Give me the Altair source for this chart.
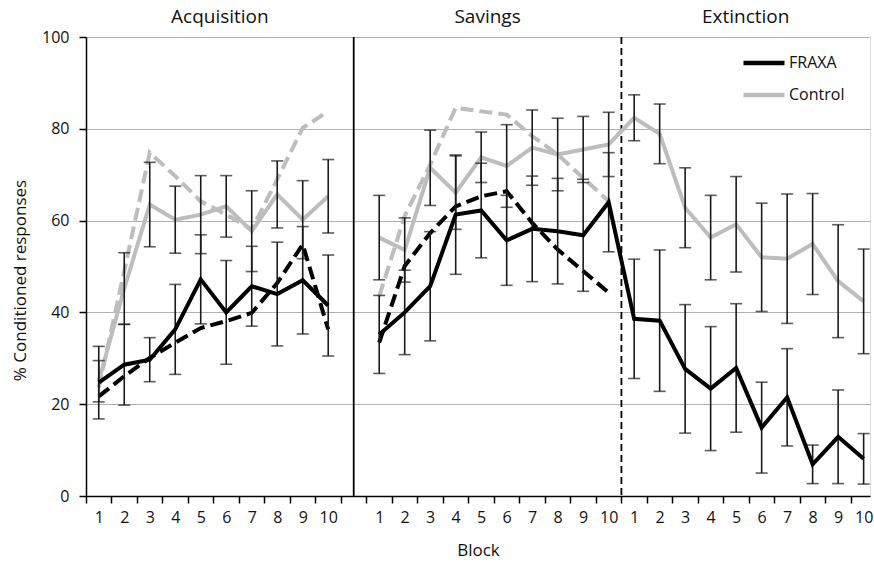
import altair as alt
import pandas as pd

# ---------------- data ----------------
phases = ["Acquisition", "Savings", "Extinction"]
blocks = list(range(1, 11))
groups = ["FRAXA", "Control"]

acq_fraxa = [24.7, 28.6, 29.7, 36.3, 47.2, 40.0, 45.7, 44.0, 47.0, 41.5]
acq_fraxa_err = [7.9, 8.8, 4.8, 9.8, 9.7, 11.3, 8.7, 11.3, 11.7, 11.0]
acq_control = [25.0, 45.2, 63.5, 60.2, 61.3, 63.1, 57.7, 65.7, 60.2, 65.3]
acq_control_err = [4.5, 7.8, 9.2, 7.3, 8.5, 6.7, 8.8, 7.3, 8.5, 8.0]
acq_fraxa_fit = [21.7, 26.1, 30.1, 33.4, 36.6, 38.1, 39.9, 46.4, 54.8, 36.3]
acq_control_fit = [23.6, 49.0, 74.8, 69.7, 64.2, 61.3, 58.1, 69.0, 80.2, 83.8]

sav_fraxa = [35.2, 40.0, 45.7, 61.3, 62.2, 55.7, 58.2, 57.7, 56.8, 64.0]
sav_fraxa_err = [8.5, 9.2, 11.9, 13.0, 10.3, 9.8, 11.5, 11.5, 12.2, 10.8]
sav_control = [56.3, 53.6, 71.5, 66.1, 73.8, 71.9, 75.9, 74.4, 75.5, 76.6]
sav_control_err = [9.2, 7.0, 8.2, 8.0, 5.5, 9.0, 8.2, 7.9, 7.2, 7.0]
sav_fraxa_fit = [33.4, 50.1, 57.3, 63.1, 65.3, 66.4, 59.5, 53.7, 49.0, 44.3]
sav_control_fit = [43.5, 61.0, 72.2, 84.6, 83.8, 83.1, 78.4, 74.4, 69.3, 64.2]

ext_fraxa = [38.6, 38.2, 27.7, 23.4, 27.9, 14.9, 21.5, 6.9, 12.9, 8.1]
ext_fraxa_err = [13.0, 15.4, 14.0, 13.5, 14.0, 9.9, 10.6, 4.2, 10.2, 5.5]
ext_control = [82.4, 78.9, 62.8, 56.3, 59.2, 52.0, 51.7, 54.9, 46.8, 42.4]
ext_control_err = [5.0, 6.5, 8.7, 9.2, 10.4, 11.8, 14.1, 11.0, 12.3, 11.4]

# ---------------- layout of the shared x axis ----------------
# slot index of block 1 for each phase (one empty slot between Acquisition and Savings)
phase_start = {"Acquisition": 0, "Savings": 11, "Extinction": 21}
x_lo, x_hi = -0.5, 30.25
panel_edges = [x_lo, 10.0, 20.5, x_hi]
title_level = 104.3

series = {
    "Acquisition": (acq_fraxa, acq_fraxa_err, acq_control, acq_control_err, acq_fraxa_fit, acq_control_fit),
    "Savings": (sav_fraxa, sav_fraxa_err, sav_control, sav_control_err, sav_fraxa_fit, sav_control_fit),
    "Extinction": (ext_fraxa, ext_fraxa_err, ext_control, ext_control_err, None, None),
}

rows = []
for ph in phases:
    fr, fre, co, coe, frf, cof = series[ph]
    seg = "acq" if ph == "Acquisition" else "sav_ext"
    for i, b in enumerate(blocks):
        pos = phase_start[ph] + i
        for g, m, e, f in (("FRAXA", fr[i], fre[i], frf[i] if frf else None),
                           ("Control", co[i], coe[i], cof[i] if cof else None)):
            rows.append({"phase": ph, "block": b, "pos": pos, "group": g, "seg": seg,
                         "mean": m, "lo": m - e, "hi": m + e, "fit": f})
df = pd.DataFrame(rows)
df_fit = df.dropna(subset=["fit"])

titles = pd.DataFrame({
    "name": phases,
    "pos": [(panel_edges[k] + panel_edges[k + 1]) / 2 for k in range(3)],
    "y": [title_level] * 3,
})

FONT = "Open Sans"
GRAY = "#bdbdbd"

tick_boundaries = [k - 0.5 for k in range(31)]
label_slots = [k for k in range(31) if k != 10]
axis_values = sorted(tick_boundaries + label_slots)

label_expr = ("datum.value % 1 !== 0 ? '' : '' + (datum.value < 10 ? datum.value + 1 : "
              "(datum.value <= 20 ? datum.value - 10 : datum.value - 20))")

x_scale = alt.Scale(domain=[x_lo, x_hi], nice=False, zero=False)
y_scale = alt.Scale(domain=[0, 100], nice=False)

x_enc = alt.X("pos:Q", scale=x_scale, title="Block",
              axis=alt.Axis(values=axis_values, tickCount=200, labelExpr=label_expr, grid=False,
                            tickOpacity={"condition": {"test": "datum.value % 1 !== 0", "value": 1}, "value": 0},
                            tickSize=7, tickColor="black", tickWidth=1.5,
                            domainColor="black", domainWidth=1.5,
                            labelFont=FONT, labelFontSize=16, labelColor="#111",
                            labelPadding=6, labelFlush=False, labelOverlap=False,
                            titleFont=FONT, titleFontSize=17, titleFontWeight="normal",
                            titleColor="#111", titlePadding=17))
y_enc_axis = alt.Axis(values=[0, 20, 40, 60, 80, 100], grid=True, gridColor="#b0b0b0",
                      gridWidth=1, tickSize=7, tickColor="black", tickWidth=1.5,
                      domainColor="black", domainWidth=1.5,
                      labelFont=FONT, labelFontSize=16, labelColor="#111", labelPadding=10,
                      titleFont=FONT, titleFontSize=17, titleFontWeight="normal",
                      titleColor="#111", titlePadding=12, titleY=243)

color = alt.Color("group:N",
                  scale=alt.Scale(domain=groups, range=["#000000", GRAY]),
                  legend=alt.Legend(title=None, orient="none", legendX=655, legendY=3,
                                    symbolType="stroke", symbolStrokeWidth=4.5, symbolSize=1681,
                                    labelFont=FONT, labelFontSize=16, labelColor="#111",
                                    labelOffset=2, rowPadding=-1, padding=0))

base = alt.Chart(df)

fit_lines = alt.Chart(df_fit).mark_line(strokeWidth=4, strokeDash=[13, 6]).encode(
    x=x_enc, y=alt.Y("fit:Q", scale=y_scale, axis=y_enc_axis, title="% Conditioned responses"),
    color=color, detail="seg:N")

control_line = base.transform_filter("datum.group === 'Control'").mark_line(strokeWidth=4).encode(
    x="pos:Q", y="mean:Q", color=color, detail="seg:N")

err_rule = base.mark_rule(color="#1a1a1a", strokeWidth=1.6).encode(
    x="pos:Q", y="lo:Q", y2="hi:Q")
err_lo = base.mark_tick(color="#1a1a1a", orient="horizontal", size=12, thickness=1.6).encode(
    x="pos:Q", y="lo:Q")
err_hi = base.mark_tick(color="#1a1a1a", orient="horizontal", size=12, thickness=1.6).encode(
    x="pos:Q", y="hi:Q")

fraxa_line = base.transform_filter("datum.group === 'FRAXA'").mark_line(strokeWidth=4).encode(
    x="pos:Q", y="mean:Q", color=color, detail="seg:N")

sep_solid = alt.Chart(pd.DataFrame({"pos": [panel_edges[1]]})).mark_rule(
    color="black", strokeWidth=1.8).encode(x="pos:Q")
sep_dash = alt.Chart(pd.DataFrame({"pos": [panel_edges[2]]})).mark_rule(
    color="black", strokeWidth=1.8, strokeDash=[7, 4]).encode(x="pos:Q")

panel_titles = alt.Chart(titles).mark_text(font=FONT, fontSize=19, color="#111",
                                           baseline="middle", align="center").encode(
    x="pos:Q", y="y:Q", text="name:N")

chart = alt.layer(
    fit_lines, sep_solid, sep_dash, control_line, err_rule, err_lo, err_hi, fraxa_line, panel_titles
).properties(
    width=784, height=459,
    autosize=alt.AutoSizeParams(type="none"),
    padding={"left": 86, "top": 37, "right": 4, "bottom": 66},
).configure_view(stroke="black", strokeWidth=1.5).configure(background="white")

chart.save("out.html", embed_options={"renderer": "svg", "actions": False})
